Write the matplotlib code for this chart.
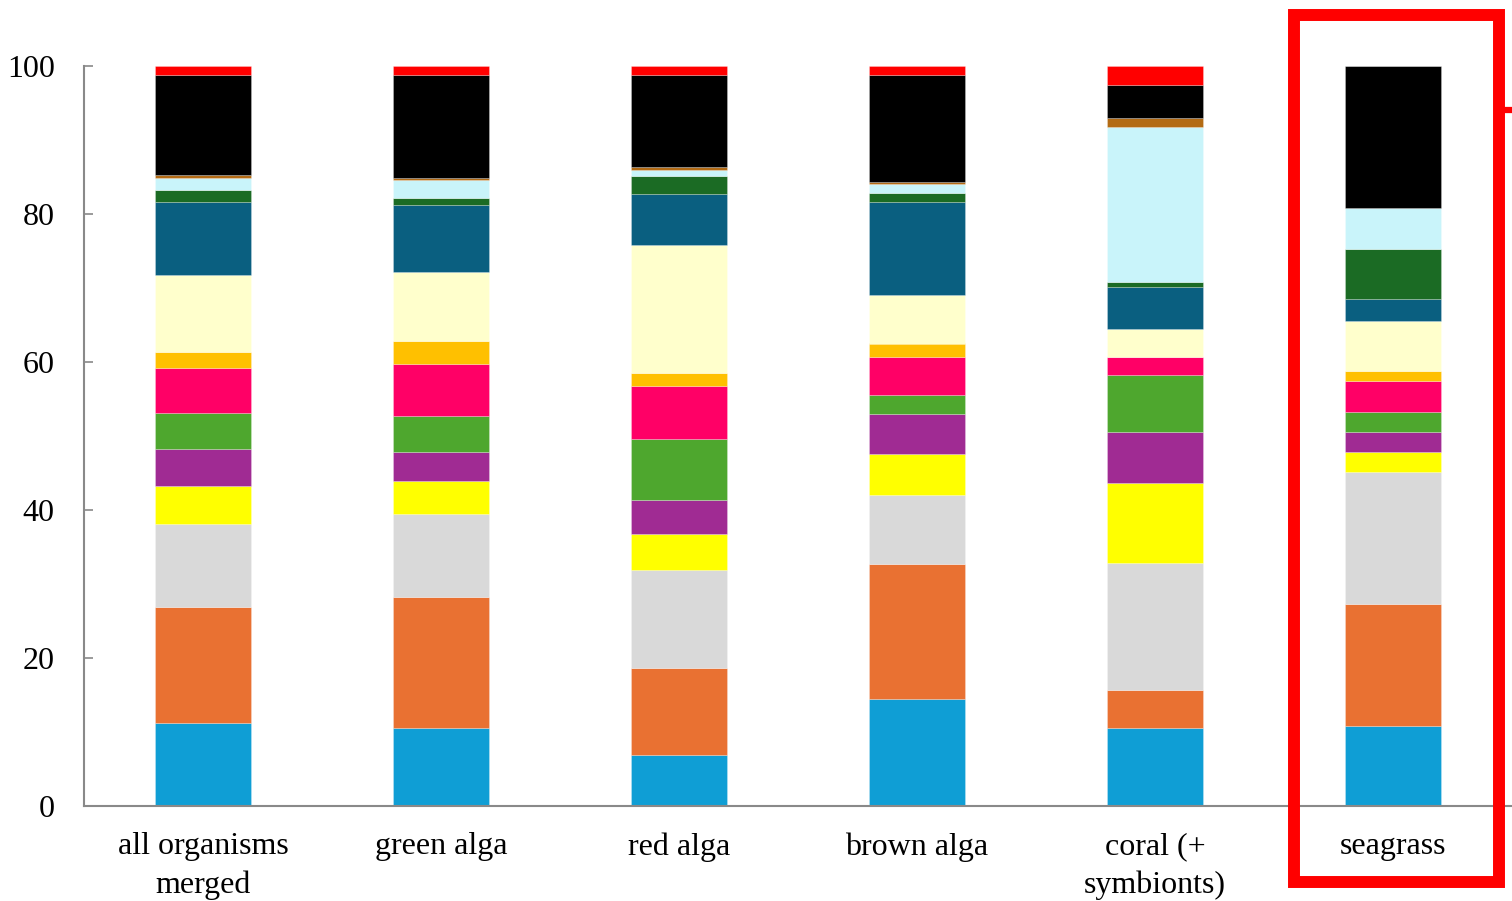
import matplotlib
matplotlib.use("Agg")
import matplotlib.pyplot as plt
from matplotlib.patches import Rectangle
from matplotlib.lines import Line2D
import numpy as np

categories = ["all organisms\nmerged", "green alga", "red alga", "brown alga",
              "coral (+\nsymbionts)", "seagrass"]

# series values (percent), bottom to top
s_blue   = [11.2, 10.5,  6.9, 14.5, 10.6, 10.8]
s_orange = [15.7, 17.7, 11.8, 18.2,  5.1, 16.5]
s_gray   = [11.2, 11.2, 13.2,  9.3, 17.1, 17.8]
s_yellow = [ 5.2,  4.5,  4.9,  5.6, 10.8,  2.7]
s_purple = [ 4.9,  4.0,  4.5,  5.4,  6.9,  2.8]
s_green  = [ 4.9,  4.8,  8.3,  2.6,  7.7,  2.7]
s_pink   = [ 6.1,  7.0,  7.1,  5.1,  2.5,  4.1]
s_amber  = [ 2.1,  3.1,  1.8,  1.8,  0.0,  1.4]
s_lyell  = [10.5,  9.4, 17.3,  6.6,  3.7,  6.8]
s_teal   = [ 9.8,  9.0,  6.9, 12.5,  5.8,  2.9]
s_dgreen = [ 1.7,  0.9,  2.5,  1.3,  0.6,  6.8]
s_cyan   = [ 1.6,  2.5,  0.8,  1.2, 21.0,  5.5]
s_brown  = [ 0.4,  0.2,  0.3,  0.2,  1.2,  0.0]
s_black  = [13.5, 14.0, 12.5, 14.5,  4.4, 19.2]
s_red    = [ 1.2,  1.2,  1.2,  1.2,  2.6,  0.0]

series = [s_blue, s_orange, s_gray, s_yellow, s_purple, s_green, s_pink, s_amber,
          s_lyell, s_teal, s_dgreen, s_cyan, s_brown, s_black, s_red]
colors = ["#0F9ED5", "#E97132", "#D9D9D9", "#FFFF00", "#A02B93", "#4EA72E",
          "#FF0066", "#FFC000", "#FFFFCC", "#0A5F80", "#1B6B24", "#C9F4FA",
          "#B36B14", "#000000", "#FF0000"]

yticks = [0, 20, 40, 60, 80, 100]

W, H = 1512, 901
fig = plt.figure(figsize=(W / 100, H / 100), dpi=100)
ax = fig.add_axes([84 / W, 1 - 806 / H, 1 - 84 / W, (806 - 66) / H])

x = np.arange(len(categories))
bottom = np.zeros(len(categories))
for vals, c in zip(series, colors):
    v = np.array(vals)
    ax.bar(x, v, width=0.4, bottom=bottom, color=c, edgecolor=(1, 1, 1, 0.35),
           linewidth=0.5, zorder=2)
    bottom += v

ax.set_xlim(-0.5, 5.5)
ax.set_ylim(0, 100)
ax.set_yticks(yticks)
ax.set_yticklabels([str(t) for t in yticks])
ax.set_xticks(x)
ax.set_xticklabels(categories)

serif = ["Liberation Serif", "DejaVu Serif"]
for lab in ax.get_xticklabels() + ax.get_yticklabels():
    lab.set_family(serif)
    lab.set_fontsize(23)
    lab.set_color("black")
for lab in ax.get_xticklabels():
    lab.set_linespacing(1.4)

for s in ["top", "right"]:
    ax.spines[s].set_visible(False)
for s in ["left", "bottom"]:
    ax.spines[s].set_color("#898989")
    ax.spines[s].set_linewidth(1.5)

ax.tick_params(axis="y", direction="in", length=6.5, width=1.2, color="#898989", pad=21)
ax.tick_params(axis="x", length=0, pad=19)

# red highlight rectangle (figure pixel coordinates)
lw = 8.6
rect = Rectangle((1293.5 / W, 1 - 882 / H), (1499 - 1293.5) / W, (882 - 14.5) / H,
                 transform=fig.transFigure, fill=False, edgecolor="#FF0000",
                 linewidth=lw, zorder=10)
fig.patches.append(rect)
fig.lines.append(Line2D([1499 / W, 1.0], [1 - 110 / H, 1 - 110 / H],
                        transform=fig.transFigure, color="#FF0000", linewidth=4.5))

fig.savefig("out.png", dpi=100)
